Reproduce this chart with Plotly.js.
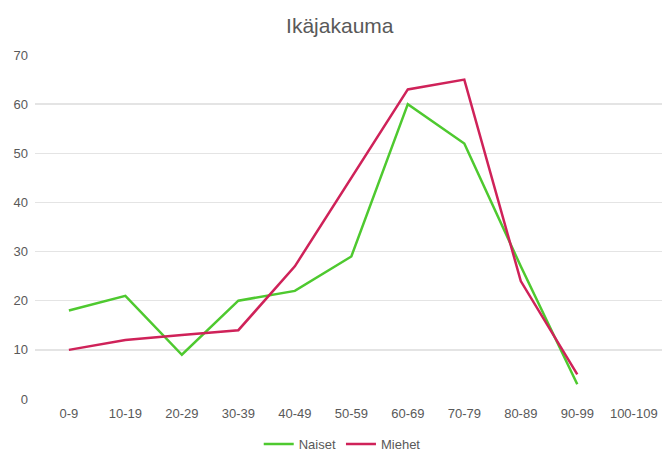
<!DOCTYPE html>
<html>
<head>
<meta charset="utf-8">
<script src="https://cdn.plot.ly/plotly-3.0.1.min.js"></script>
<style>html,body{margin:0;padding:0;background:#fff;}#chart{width:665px;height:453px;}</style>
</head>
<body>
<div id="chart"></div>
<script>
const categories = ["0-9","10-19","20-29","30-39","40-49","50-59","60-69","70-79","80-89","90-99","100-109"];
const naiset = [18, 21, 9, 20, 22, 29, 60, 52, 27, 3, null];
const miehet = [10, 12, 13, 14, 27, 45, 63, 65, 24, 5, null];
const yTicks = [0, 10, 20, 30, 40, 50, 60, 70];

const traces = [
  {x: categories, y: naiset, name: "Naiset", type: "scatter", mode: "lines",
   line: {color: "#4ec92f", width: 2.5}},
  {x: categories, y: miehet, name: "Miehet", type: "scatter", mode: "lines",
   line: {color: "#cf2259", width: 2.5}}
];

const layout = {
  width: 665, height: 453,
  margin: {l: 35, r: 3, t: 55, b: 54},
  paper_bgcolor: "#ffffff", plot_bgcolor: "#ffffff",
  font: {family: "Liberation Sans, Arial, sans-serif", color: "#595959", size: 13},
  title: {text: "Ikäjakauma", x: 0.511, xanchor: "center", y: 0.943, yanchor: "middle",
          font: {size: 21, color: "#595959"}},
  xaxis: {type: "category", categoryorder: "array", categoryarray: categories,
          range: [-0.6, 10.5], showgrid: false, zeroline: false, showline: false,
          ticks: "", tickfont: {size: 13, color: "#595959"}, ticklabelstandoff: 5,
          automargin: false, fixedrange: true},
  yaxis: {range: [0, 70], tickvals: yTicks, showgrid: true, gridcolor: "#e4e4e4",
          gridwidth: 1.3, zeroline: false, showline: false, ticks: "", automargin: false,
          tickfont: {size: 13, color: "#595959"}, ticklabelstandoff: 6},
  showlegend: true,
  legend: {orientation: "h", x: 0.49, xanchor: "center", xref: "paper",
           yref: "container", y: 0.02, yanchor: "middle",
           font: {size: 13, color: "#595959"}, itemwidth: 30, traceorder: "normal"}
};

Plotly.newPlot("chart", traces, layout, {displayModeBar: false, staticPlot: true});
</script>
</body>
</html>
